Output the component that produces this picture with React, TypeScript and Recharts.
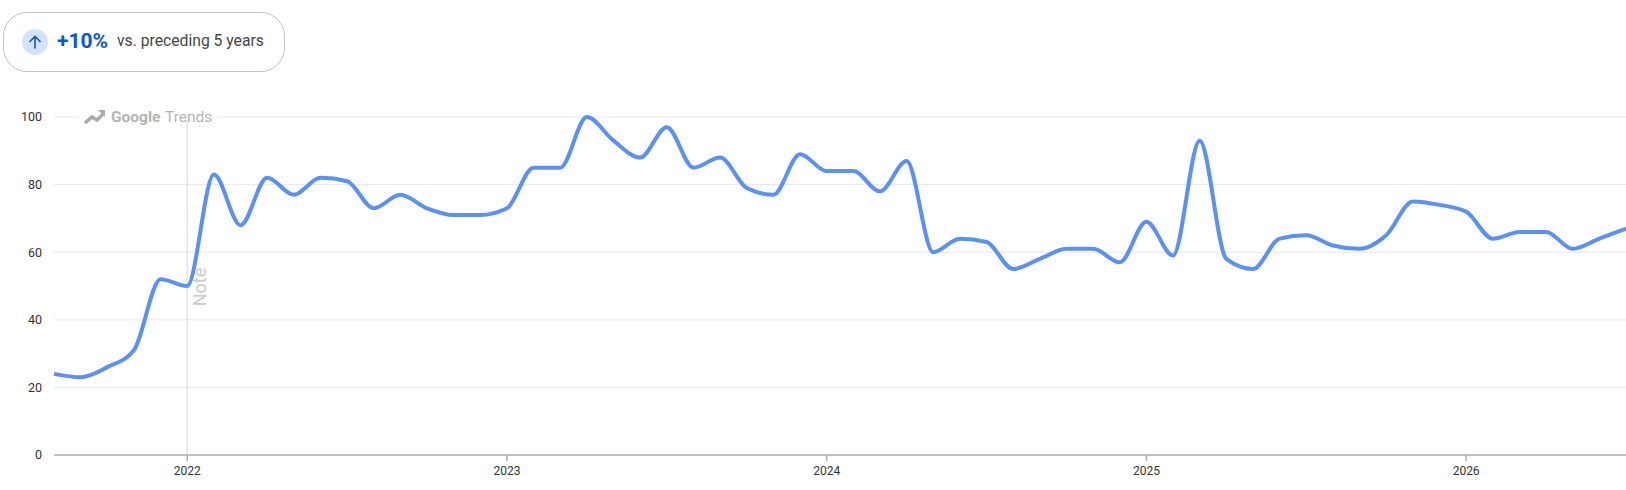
import React from 'react'
import { LineChart, Line, XAxis, YAxis, CartesianGrid, ReferenceLine } from 'recharts'

const months = [
  '2021-08', '2021-09', '2021-10', '2021-11', '2021-12',
  '2022-01', '2022-02', '2022-03', '2022-04', '2022-05', '2022-06', '2022-07', '2022-08', '2022-09', '2022-10', '2022-11', '2022-12',
  '2023-01', '2023-02', '2023-03', '2023-04', '2023-05', '2023-06', '2023-07', '2023-08', '2023-09', '2023-10', '2023-11', '2023-12',
  '2024-01', '2024-02', '2024-03', '2024-04', '2024-05', '2024-06', '2024-07', '2024-08', '2024-09', '2024-10', '2024-11', '2024-12',
  '2025-01', '2025-02', '2025-03', '2025-04', '2025-05', '2025-06', '2025-07', '2025-08', '2025-09', '2025-10', '2025-11', '2025-12',
  '2026-01', '2026-02', '2026-03', '2026-04', '2026-05', '2026-06', '2026-07',
]

const interest = [
  24, 23, 26, 31, 52,
  50, 83, 68, 82, 77, 82, 81, 73, 77, 73, 71, 71,
  73, 85, 85, 100, 93, 88, 97, 85, 88, 79, 77, 89,
  84, 84, 78, 87, 60, 64, 63, 55, 58, 61, 61, 57,
  69, 59, 93, 58, 55, 64, 65, 62, 61, 65, 75, 74,
  72, 64, 66, 66, 61, 64, 67,
]

const yearTicks = ['2022-01', '2023-01', '2024-01', '2025-01', '2026-01']
const valueTicks = [0, 20, 40, 60, 80, 100]

const data = months.map((month, i) => ({ month, value: interest[i] }))

const font = 'Roboto, sans-serif'

function NoteLabel({ viewBox }: any) {
  const x = viewBox.x + 19
  const y = 287
  return (
    <text x={x} y={y} transform={`rotate(-90 ${x} ${y})`} textAnchor="middle" fontFamily={font} fontSize={18} fill="#cccccc">
      Note
    </text>
  )
}

function ChangePill() {
  return (
    <div style={{
      position: 'absolute', left: 3, top: 12, width: 282, height: 60, boxSizing: 'border-box',
      border: '1px solid #c4c4c4', borderRadius: 24, background: '#fff', fontFamily: font,
    }}>
      <svg width={26} height={26} style={{ position: 'absolute', left: 18, top: 16 }}>
        <circle cx={13} cy={13} r={13} fill="#d3e3fd" />
        <path d="M13 19.5V7.5M7.5 13L13 7.5l5.5 5.5" fill="none" stroke="#0b57d0" strokeWidth={1.6} />
      </svg>
      <span style={{ position: 'absolute', left: 53, top: 15, fontSize: 21, fontWeight: 700, color: '#0b57d0', lineHeight: '26px' }}>
        +10%
      </span>
      <span style={{ position: 'absolute', left: 113, top: 18, fontSize: 15.7, color: '#444746', lineHeight: '20px', whiteSpace: 'nowrap' }}>
        vs. preceding 5 years
      </span>
    </div>
  )
}

function TrendsMark() {
  return (
    <div style={{
      position: 'absolute', left: 78, top: 106, width: 140, height: 14, background: '#fff',
      fontFamily: font, fontSize: 15.5, lineHeight: '22px', color: '#b4b4b4',
    }}>
      <svg width={24} height={16} style={{ position: 'absolute', left: 5, top: 4 }}>
        <path d="M2 13l7-6 5 3 6-6" fill="none" stroke="#ababab" strokeWidth={3.6} />
        <path d="M15 0h7v7z" fill="#ababab" />
      </svg>
      <span style={{ position: 'absolute', left: 33, fontWeight: 700 }}>Google</span>
      <span style={{ position: 'absolute', left: 87 }}>Trends</span>
    </div>
  )
}

export default function App() {
  return (
    <div style={{ position: 'absolute', left: 0, top: 0, width: 1626, height: 490, background: '#fff', overflow: 'hidden' }}>
      <LineChart width={1626} height={490} data={data} margin={{ top: 117, right: 0, bottom: 11, left: 0 }}>
        <CartesianGrid vertical={false} stroke="#e8e8e8" />
        <XAxis
          dataKey="month"
          height={24}
          ticks={yearTicks}
          tickFormatter={(m: string) => m.slice(0, 4)}
          interval={0}
          stroke="#b0b0b0"
          strokeWidth={1.5}
          tickSize={6}
          tickMargin={5}
          tick={{ fontFamily: font, fontSize: 12, fill: '#333' }}
        />
        <YAxis
          width={54}
          domain={[0, 100]}
          ticks={valueTicks}
          axisLine={false}
          tickLine={false}
          tickMargin={6}
          tick={{ fontFamily: font, fontSize: 12.5, fill: '#333' }}
        />
        <ReferenceLine x="2022-01" stroke="#e4e4e4" strokeWidth={1.5} label={<NoteLabel />} />
        <Line
          type="monotone"
          dataKey="value"
          stroke="#5b91f0"
          strokeWidth={4}
          dot={false}
          isAnimationActive={false}
        />
      </LineChart>
      <ChangePill />
      <TrendsMark />
    </div>
  )
}
